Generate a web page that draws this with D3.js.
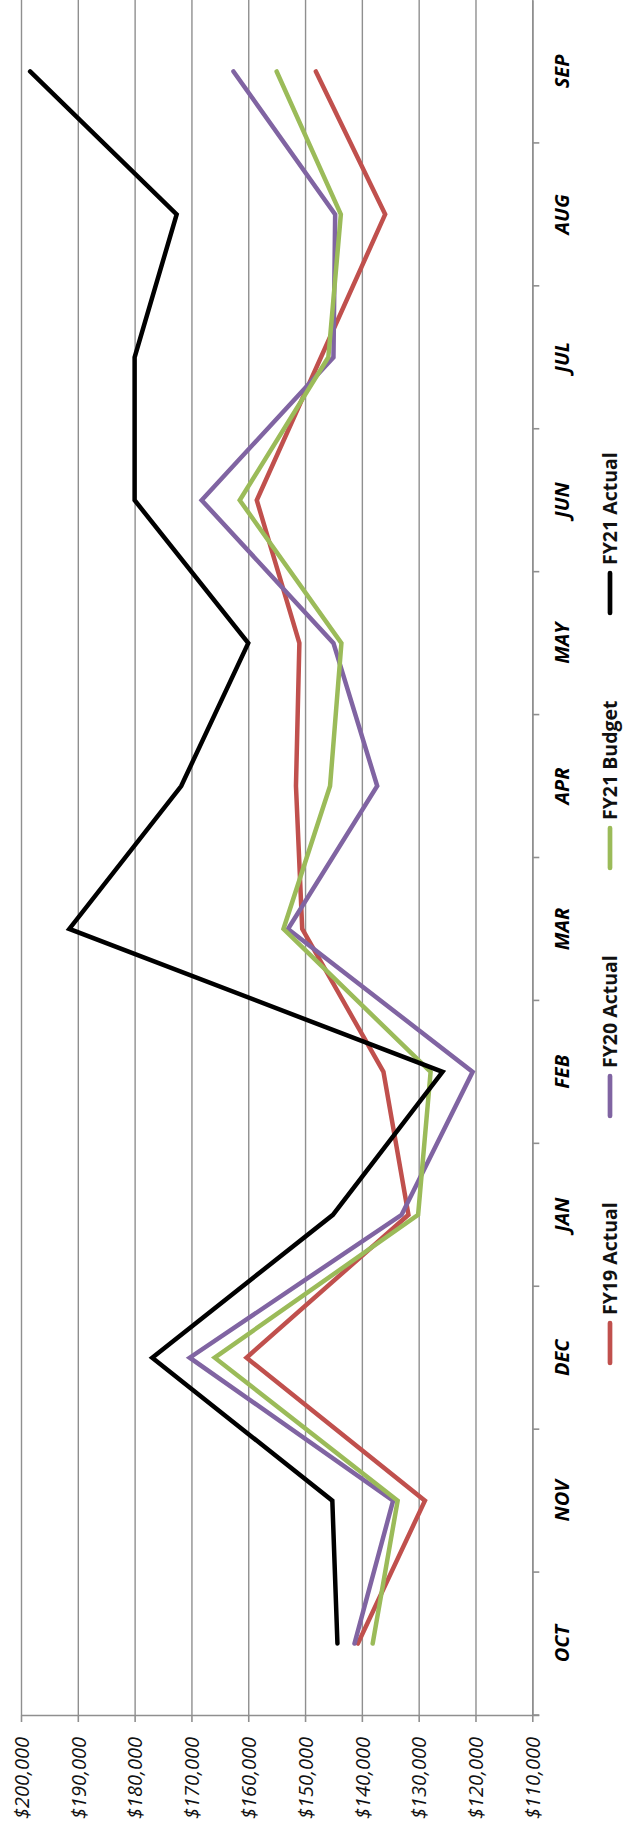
<!DOCTYPE html>
<html>
<head>
<meta charset="utf-8">
<script src="https://cdn.jsdelivr.net/npm/d3@7"></script>
<style>
  html, body { margin: 0; padding: 0; background: #fff; }
  svg { display: block; }
</style>
</head>
<body>
<script>
// Monthly totals by fiscal year, October through September.
const months = ["OCT", "NOV", "DEC", "JAN", "FEB", "MAR", "APR", "MAY", "JUN", "JUL", "AUG", "SEP"];
const fy19Actual = [140700, 128900, 160300, 131800, 136200, 150500, 151600, 151000, 158500, 147200, 135900, 148100];
const fy20Actual = [141300, 134500, 170300, 133000, 120500, 153000, 137300, 145000, 168200, 145000, 144700, 162600];
const fy21Budget = [138100, 133700, 165900, 130100, 127900, 153800, 145600, 143600, 161500, 145900, 143700, 155000];
const fy21Actual = [144300, 145200, 176900, 145100, 125800, 191500, 171800, 160000, 180000, 180000, 172600, 198400];
const valueTicks = [200000, 190000, 180000, 170000, 160000, 150000, 140000, 130000, 120000, 110000];
const seriesNames = ["FY19 Actual", "FY20 Actual", "FY21 Budget", "FY21 Actual"];
const seriesColors = ["#C0504D", "#8064A2", "#9BBB59", "#000000"];

const W = 624, H = 1834;
const plot = { left: 21, right: 532.3, top: 0, bottom: 1715 };
const FONT = "'Open Sans', 'Liberation Sans', sans-serif";

const svg = d3.select("body").append("svg")
  .attr("width", W).attr("height", H)
  .attr("viewBox", `0 0 ${W} ${H}`);

// The chart is laid out sideways: values run left-to-right (high to low),
// months run bottom-to-top.
const x = d3.scaleLinear().domain([110000, 200000]).range([plot.right, plot.left]);
const y = d3.scaleBand().domain(months).range([plot.bottom, plot.top]);
const bw = y.bandwidth();

// Gridlines
svg.append("g")
  .attr("transform", `translate(0,${plot.bottom})`)
  .call(d3.axisBottom(x).tickValues(valueTicks).tickSize(-(plot.bottom - plot.top)).tickFormat(""))
  .call(g => g.select(".domain").remove())
  .call(g => g.selectAll("line").attr("stroke", "#8f8f8f").attr("stroke-width", 1.4));

// Value axis
const xAxis = svg.append("g")
  .attr("transform", `translate(0,${plot.bottom})`)
  .call(d3.axisBottom(x).tickValues(valueTicks).tickSize(7).tickSizeOuter(0).tickFormat(d3.format("$,")));
xAxis.select(".domain").attr("stroke", "#8f8f8f").attr("stroke-width", 1.6)
  .attr("d", `M${plot.left},0.5H${plot.right + 7}`);
xAxis.selectAll(".tick line").attr("stroke", "#8f8f8f").attr("stroke-width", 1.6);
xAxis.selectAll(".tick text")
  .attr("transform", "translate(0,22) rotate(-90)")
  .attr("x", 0).attr("y", 0).attr("dy", "0.36em")
  .attr("text-anchor", "end")
  .style("font-family", FONT).style("font-size", "20px").style("font-style", "italic")
  .attr("fill", "#111");

// Category axis along the right edge, with ticks on band boundaries
const yAxis = svg.append("g")
  .attr("transform", `translate(${plot.right},0)`)
  .call(d3.axisRight(y).tickSize(0).tickSizeOuter(0));
yAxis.select(".domain").attr("stroke", "#8f8f8f").attr("stroke-width", 1.6);
yAxis.selectAll(".tick text")
  .attr("transform", "translate(29,0) rotate(-90)")
  .attr("x", 0).attr("dy", "0.36em")
  .attr("text-anchor", "middle")
  .style("font-family", FONT).style("font-size", "20px")
  .style("font-weight", "bold").style("font-style", "italic")
  .attr("fill", "#000");
// boundary ticks below each month band (the top edge of the plot has none)
const boundaries = months.map(m => y(m) + bw);
yAxis.selectAll(".bound").data(boundaries).join("line")
  .attr("class", "bound")
  .attr("x1", 0).attr("x2", 7)
  .attr("y1", d => d).attr("y2", d => d)
  .attr("stroke", "#8f8f8f").attr("stroke-width", 1.6);

// Series lines
const allSeries = [fy19Actual, fy20Actual, fy21Budget, fy21Actual];
const line = d3.line()
  .x(d => x(d.v))
  .y(d => y(d.m) + bw / 2);

svg.append("g").selectAll("path")
  .data(allSeries)
  .join("path")
  .attr("d", vals => line(vals.map((v, i) => ({ m: months[i], v }))))
  .attr("fill", "none")
  .attr("stroke", (d, i) => seriesColors[i])
  .attr("stroke-width", 4.5)
  .attr("stroke-linecap", "round")
  .attr("stroke-linejoin", "miter");

// Legend, stacked along the right edge
const legendX = 610;
const legendStarts = [1363, 1116, 868, 613];
const legend = svg.append("g").selectAll("g")
  .data(seriesNames)
  .join("g")
  .attr("transform", (d, i) => `translate(${legendX},${legendStarts[i]})`);
legend.append("line")
  .attr("x1", 0).attr("x2", 0).attr("y1", 0).attr("y2", -40)
  .attr("stroke", (d, i) => seriesColors[i])
  .attr("stroke-width", 4.7)
  .attr("stroke-linecap", "round");
legend.append("text")
  .attr("transform", "translate(0,-48) rotate(-90)")
  .attr("dy", "0.36em")
  .attr("text-anchor", "start")
  .style("font-family", FONT).style("font-size", "19.5px").style("font-weight", "bold")
  .attr("fill", "#111")
  .text(d => d);
</script>
</body>
</html>
